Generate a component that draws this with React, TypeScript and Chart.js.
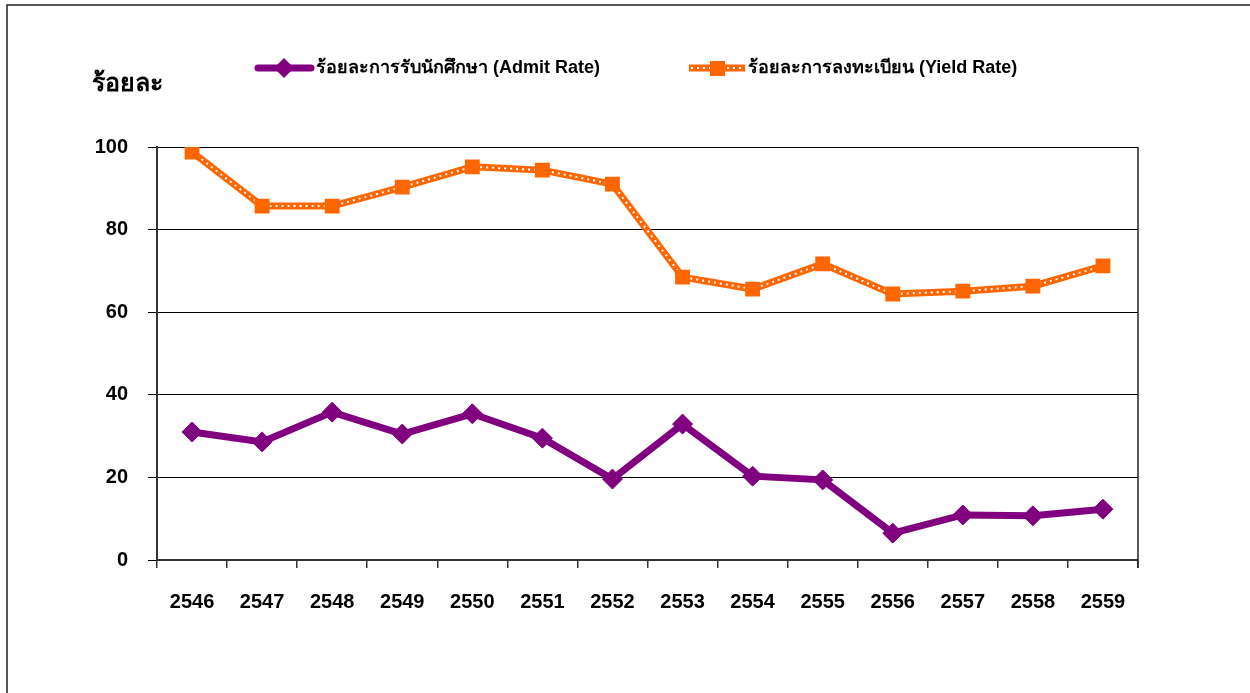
import React, { useEffect, useRef } from "react";
import { Chart, registerables } from "chart.js";

Chart.register(...registerables);

const years = ["2546", "2547", "2548", "2549", "2550", "2551", "2552", "2553", "2554", "2555", "2556", "2557", "2558", "2559"];
const admitRate = [31.0, 28.6, 35.8, 30.5, 35.4, 29.5, 19.6, 32.9, 20.3, 19.4, 6.5, 10.9, 10.7, 12.3];
const yieldRate = [98.8, 85.7, 85.7, 90.3, 95.2, 94.4, 91.0, 68.5, 65.6, 71.7, 64.4, 65.1, 66.3, 71.2];
const yTicks = [0, 20, 40, 60, 80, 100];
const admitLabel = "ร้อยละการรับนักศึกษา (Admit Rate)";
const yieldLabel = "ร้อยละการลงทะเบียน (Yield Rate)";
const yTitle = "ร้อยละ";

const PURPLE = "#800080";
const ORANGE = "#FF6600";
const FONT = "Arial, 'Liberation Sans', sans-serif";

const decorPlugin = {
  id: "decor",
  afterDraw(chart: any) {
    const ctx = chart.ctx as CanvasRenderingContext2D;
    const area = chart.chartArea;
    ctx.save();
    // outer frame
    ctx.strokeStyle = "#222";
    ctx.lineWidth = 1.5;
    ctx.beginPath();
    ctx.moveTo(7, 693);
    ctx.lineTo(7, 5);
    ctx.lineTo(1250, 5);
    ctx.stroke();
    // right border of plot area
    ctx.strokeStyle = "#222";
    ctx.lineWidth = 1.5;
    ctx.beginPath();
    ctx.moveTo(area.right, area.top);
    ctx.lineTo(area.right, area.bottom + 8);
    ctx.stroke();
    // y title
    ctx.fillStyle = "#000";
    ctx.font = `bold 25px ${FONT}`;
    ctx.textBaseline = "middle";
    ctx.textAlign = "left";
    ctx.fillText(yTitle, 92, 84);
    // legend 1
    const ly = 68;
    ctx.strokeStyle = PURPLE;
    ctx.lineWidth = 7;
    ctx.lineCap = "round";
    ctx.beginPath();
    ctx.moveTo(258, ly);
    ctx.lineTo(311, ly);
    ctx.stroke();
    ctx.fillStyle = PURPLE;
    ctx.beginPath();
    ctx.moveTo(284, ly - 10);
    ctx.lineTo(294, ly);
    ctx.lineTo(284, ly + 10);
    ctx.lineTo(274, ly);
    ctx.closePath();
    ctx.fill();
    ctx.fillStyle = "#000";
    ctx.font = `bold 18px ${FONT}`;
    ctx.fillText(admitLabel, 316, ly);
    // legend 2
    ctx.strokeStyle = ORANGE;
    ctx.lineWidth = 7;
    ctx.lineCap = "butt";
    ctx.beginPath();
    ctx.moveTo(689, ly);
    ctx.lineTo(745, ly);
    ctx.stroke();
    ctx.strokeStyle = "#fff";
    ctx.lineWidth = 2;
    ctx.setLineDash([2, 4]);
    ctx.beginPath();
    ctx.moveTo(691, ly);
    ctx.lineTo(744, ly);
    ctx.stroke();
    ctx.setLineDash([]);
    ctx.fillStyle = ORANGE;
    ctx.fillRect(710, ly - 7, 15, 15);
    ctx.fillStyle = "#000";
    ctx.fillText(yieldLabel, 748, ly);
    ctx.restore();
  },
};

export default function App() {
  const ref = useRef<HTMLCanvasElement>(null);
  useEffect(() => {
    if (!ref.current) return;
    const chart = new Chart(ref.current, {
      type: "line",
      data: {
        labels: years,
        datasets: [
          {
            label: admitLabel,
            data: admitRate,
            borderColor: PURPLE,
            backgroundColor: PURPLE,
            borderWidth: 7,
            pointStyle: "rectRot",
            pointRadius: 10,
            pointBorderWidth: 1,
            pointBackgroundColor: PURPLE,
            pointBorderColor: PURPLE,
            tension: 0,
            order: 1,
          },
          {
            label: yieldLabel,
            data: yieldRate,
            borderColor: ORANGE,
            backgroundColor: ORANGE,
            borderWidth: 7,
            pointRadius: 0,
            tension: 0,
            order: 4,
          },
          {
            label: "_dots",
            data: yieldRate,
            borderColor: "#ffffff",
            borderWidth: 2,
            borderDash: [2, 4],
            pointRadius: 0,
            tension: 0,
            order: 3,
          },
          {
            label: "_marks",
            data: yieldRate,
            showLine: false,
            pointStyle: "rect",
            pointRadius: 10.5,
            pointBorderWidth: 0,
            pointBackgroundColor: ORANGE,
            pointBorderColor: ORANGE,
            order: 2,
          },
        ],
      },
      options: {
        animation: false,
        responsive: false,
        maintainAspectRatio: false,
        layout: { padding: { left: 0, top: 147, right: 112, bottom: 0 } },
        plugins: {
          legend: { display: false },
          tooltip: { enabled: false },
          title: { display: false },
        },
        scales: {
          x: {
            offset: true,
            grid: {
              offset: true,
              drawOnChartArea: false,
              drawTicks: true,
              tickLength: 8,
              color: "#333",
              lineWidth: 1.5,
            },
            border: { color: "#333", width: 2 },
            ticks: {
              color: "#000",
              font: { family: FONT, size: 20, weight: "bold" },
              padding: 22,
              maxRotation: 0,
            },
            afterFit(scale: any) {
              scale.height = 133;
            },
          },
          y: {
            min: 0,
            max: 100,
            afterBuildTicks(scale: any) {
              scale.ticks = yTicks.map((v) => ({ value: v }));
            },
            grid: {
              color: "#000",
              lineWidth: 1,
              drawTicks: true,
              tickLength: 9,
            },
            border: { color: "#333", width: 2 },
            ticks: {
              color: "#000",
              font: { family: FONT, size: 20, weight: "bold" },
              padding: 20,
            },
            afterFit(scale: any) {
              scale.width = 157;
            },
          },
        },
      },
      plugins: [decorPlugin],
    });
    return () => chart.destroy();
  }, []);
  return (
    <div style={{ position: "fixed", left: 0, top: 0, width: 1250, height: 693, background: "#fff" }}>
      <canvas ref={ref} width={1250} height={693} style={{ width: 1250, height: 693 }} />
    </div>
  );
}
